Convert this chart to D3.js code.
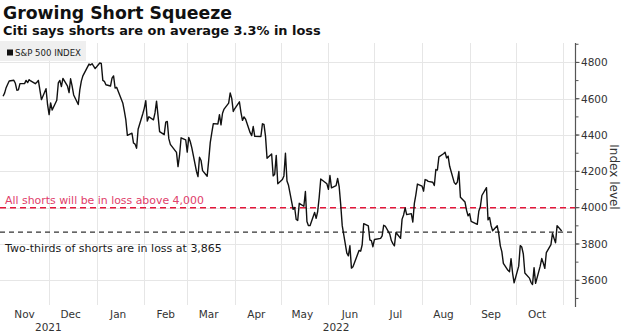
<!DOCTYPE html>
<html><head><meta charset="utf-8">
<script src="https://cdn.jsdelivr.net/npm/d3@7"></script>
<style>body{margin:0;background:#fff;} svg{display:block;}</style>
</head><body>
<svg id="c" width="627" height="335"></svg>
<script>
// ---------- data ----------
const dates = [
"2021-11-01","2021-11-02","2021-11-03","2021-11-04","2021-11-05","2021-11-08","2021-11-09","2021-11-10","2021-11-11","2021-11-12","2021-11-15","2021-11-16","2021-11-17","2021-11-18","2021-11-19","2021-11-22","2021-11-23","2021-11-24","2021-11-26","2021-11-29","2021-11-30",
"2021-12-01","2021-12-02","2021-12-03","2021-12-06","2021-12-07","2021-12-08","2021-12-09","2021-12-10","2021-12-13","2021-12-14","2021-12-15","2021-12-16","2021-12-17","2021-12-20","2021-12-21","2021-12-22","2021-12-23","2021-12-27","2021-12-28","2021-12-29","2021-12-30","2021-12-31",
"2022-01-03","2022-01-04","2022-01-05","2022-01-06","2022-01-07","2022-01-10","2022-01-11","2022-01-12","2022-01-13","2022-01-14","2022-01-18","2022-01-19","2022-01-20","2022-01-21","2022-01-24","2022-01-25","2022-01-26","2022-01-27","2022-01-28","2022-01-31",
"2022-02-01","2022-02-02","2022-02-03","2022-02-04","2022-02-07","2022-02-08","2022-02-09","2022-02-10","2022-02-11","2022-02-14","2022-02-15","2022-02-16","2022-02-17","2022-02-18","2022-02-22","2022-02-23","2022-02-24","2022-02-25","2022-02-28",
"2022-03-01","2022-03-02","2022-03-03","2022-03-04","2022-03-07","2022-03-08","2022-03-09","2022-03-10","2022-03-11","2022-03-14","2022-03-15","2022-03-16","2022-03-17","2022-03-18","2022-03-21","2022-03-22","2022-03-23","2022-03-24","2022-03-25","2022-03-28","2022-03-29","2022-03-30","2022-03-31",
"2022-04-01","2022-04-04","2022-04-05","2022-04-06","2022-04-07","2022-04-08","2022-04-11","2022-04-12","2022-04-13","2022-04-14","2022-04-18","2022-04-19","2022-04-20","2022-04-21","2022-04-22","2022-04-25","2022-04-26","2022-04-27","2022-04-28","2022-04-29",
"2022-05-02","2022-05-03","2022-05-04","2022-05-05","2022-05-06","2022-05-09","2022-05-10","2022-05-11","2022-05-12","2022-05-13","2022-05-16","2022-05-17","2022-05-18","2022-05-19","2022-05-20","2022-05-23","2022-05-24","2022-05-25","2022-05-26","2022-05-27","2022-05-31",
"2022-06-01","2022-06-02","2022-06-03","2022-06-06","2022-06-07","2022-06-08","2022-06-09","2022-06-10","2022-06-13","2022-06-14","2022-06-15","2022-06-16","2022-06-17","2022-06-21","2022-06-22","2022-06-23","2022-06-24","2022-06-27","2022-06-28","2022-06-29","2022-06-30",
"2022-07-01","2022-07-05","2022-07-06","2022-07-07","2022-07-08","2022-07-11","2022-07-12","2022-07-13","2022-07-14","2022-07-15","2022-07-18","2022-07-19","2022-07-20","2022-07-21","2022-07-22","2022-07-25","2022-07-26","2022-07-27","2022-07-28","2022-07-29",
"2022-08-01","2022-08-02","2022-08-03","2022-08-04","2022-08-05","2022-08-08","2022-08-09","2022-08-10","2022-08-11","2022-08-12","2022-08-15","2022-08-16","2022-08-17","2022-08-18","2022-08-19","2022-08-22","2022-08-23","2022-08-24","2022-08-25","2022-08-26","2022-08-29","2022-08-30","2022-08-31",
"2022-09-01","2022-09-02","2022-09-06","2022-09-07","2022-09-08","2022-09-09","2022-09-12","2022-09-13","2022-09-14","2022-09-15","2022-09-16","2022-09-19","2022-09-20","2022-09-21","2022-09-22","2022-09-23","2022-09-26","2022-09-27","2022-09-28","2022-09-29","2022-09-30",
"2022-10-03","2022-10-04","2022-10-05","2022-10-06","2022-10-07","2022-10-10","2022-10-11","2022-10-12","2022-10-13","2022-10-14","2022-10-17","2022-10-18","2022-10-19","2022-10-20","2022-10-21","2022-10-24","2022-10-25","2022-10-26","2022-10-27","2022-10-28","2022-10-31"
];
const spx = [
4614,4631,4661,4680,4698,4702,4685,4647,4649,4683,4683,4701,4689,4705,4698,4683,4691,4701,4595,4655,4567,
4513,4577,4538,4592,4687,4701,4667,4712,4669,4634,4710,4669,4621,4568,4649,4697,4726,4791,4786,4793,4779,4766,
4797,4794,4701,4696,4677,4670,4713,4726,4659,4663,4577,4533,4483,4398,4410,4356,4350,4327,4432,4516,
4547,4589,4477,4501,4484,4522,4587,4504,4419,4402,4471,4475,4380,4349,4305,4226,4289,4385,4374,
4306,4387,4363,4329,4201,4171,4278,4260,4204,4173,4262,4358,4412,4463,4461,4512,4456,4520,4543,4576,4632,4602,4530,
4546,4583,4525,4481,4500,4488,4413,4397,4447,4393,4392,4462,4459,4394,4272,4296,4175,4184,4288,4132,
4155,4175,4300,4147,4123,3991,4001,3935,3930,4024,4008,4089,3924,3901,3901,3974,3941,3979,4058,4158,4132,
4101,4177,4109,4121,4161,4116,4018,3901,3750,3735,3790,3667,3675,3765,3760,3796,3912,3900,3822,3819,3785,
3825,3831,3845,3903,3899,3854,3819,3802,3790,3863,3831,3937,3960,3999,3962,3967,3921,4024,4072,4130,
4119,4091,4155,4152,4145,4140,4122,4210,4207,4280,4297,4305,4274,4284,4228,4138,4129,4141,4199,4058,4031,3986,3955,
3967,3924,3908,3980,4006,4067,4110,3933,3946,3901,3873,3900,3856,3790,3758,3693,3655,3647,3719,3640,3586,
3678,3791,3783,3745,3640,3612,3589,3577,3670,3583,3678,3720,3695,3666,3753,3797,3859,3831,3807,3901,3872
];
const monthLabels = ["Nov","Dec","Jan","Feb","Mar","Apr","May","Jun","Jul","Aug","Sep","Oct"];
const yearLabels = ["2021","2022"];
const yTicks = [3600,3800,4000,4200,4400,4600,4800];
const levels = [4000, 3865];
const levelNotes = ["All shorts will be in loss above 4,000","Two-thirds of shorts are in loss at 3,865"];
const seriesName = "S&P 500 INDEX";
const titleText = "Growing Short Squeeze";
const subtitleText = "Citi says shorts are on average 3.3% in loss";
const yAxisTitle = "Index level";

// ---------- layout ----------
const svg = d3.select("#c");
const parse = d3.timeParse("%Y-%m-%d");
const data = dates.map((d,i)=>({date:parse(d), v:spx[i]}));
const axisX = 575.5;
const x = d3.scaleTime().domain([new Date(2021,9,30), new Date(2022,10,9)]).range([0, axisX]);
const y = d3.scaleLinear().domain([3453, 4907]).range([307, 43]);
const FONT = "DejaVu Sans, Verdana, sans-serif";

function fit(sel, w){
  const l = sel.node().getComputedTextLength();
  const fs = parseFloat(sel.attr("font-size"));
  sel.attr("font-size", (fs*w/l).toFixed(2));
  return sel;
}

// gridlines
const monthStarts = d3.timeMonth.range(new Date(2021,11,1), new Date(2022,10,2));
svg.append("g").selectAll("line").data(monthStarts).join("line")
  .attr("x1", d=>Math.round(x(d))+0.5).attr("x2", d=>Math.round(x(d))+0.5)
  .attr("y1", 43).attr("y2", 305)
  .attr("stroke", "#e6e6e6").attr("stroke-width", 1);
svg.append("g").selectAll("line").data(yTicks).join("line")
  .attr("x1", 0).attr("x2", axisX)
  .attr("y1", d=>Math.round(y(d))+0.5).attr("y2", d=>Math.round(y(d))+0.5)
  .attr("stroke", "#e6e6e6").attr("stroke-width", 1);

// legend
svg.append("rect").attr("x",0).attr("y",41).attr("width",86).attr("height",20).attr("fill","#efefef");
svg.append("rect").attr("x",7).attr("y",49.5).attr("width",6).attr("height",6).attr("fill","#111");
fit(svg.append("text").attr("x",15).attr("y",55.5).attr("font-family",FONT).attr("font-size",9)
  .attr("fill","#222").text(seriesName), 66);

// reference levels
svg.append("line").attr("x1",0).attr("x2",axisX).attr("y1",y(levels[0])).attr("y2",y(levels[0]))
  .attr("stroke","#e3173a").attr("stroke-width",1.6).attr("stroke-dasharray","6,4");
svg.append("line").attr("x1",0).attr("x2",axisX).attr("y1",y(levels[1])).attr("y2",y(levels[1]))
  .attr("stroke","#333").attr("stroke-width",1.2).attr("stroke-dasharray","5,4");
fit(svg.append("text").attr("x",5).attr("y",y(levels[0])-4).attr("font-family",FONT).attr("font-size",11)
  .attr("fill","#e0406a").text(levelNotes[0]), 199);
fit(svg.append("text").attr("x",5).attr("y",y(levels[1])+20).attr("font-family",FONT).attr("font-size",11)
  .attr("fill","#1a1a1a").text(levelNotes[1]), 217);

// line
svg.append("path").datum(data)
  .attr("d", d3.line().x(d=>x(d.date)).y(d=>y(d.v)))
  .attr("fill","none").attr("stroke","#111").attr("stroke-width",1.4).attr("stroke-linejoin","round");

// right axis
const ax = svg.append("g").attr("transform",`translate(${axisX},0)`);
ax.append("line").attr("x1",0).attr("x2",0).attr("y1",43).attr("y2",307).attr("stroke","#555").attr("stroke-width",1.2);
const minor = d3.range(3500, 4901, 100);
ax.selectAll("line.minor").data(minor).join("line").attr("class","minor")
  .attr("x1",0).attr("x2",3).attr("y1",d=>y(d)).attr("y2",d=>y(d)).attr("stroke","#555");
ax.selectAll("line.major").data(yTicks).join("line").attr("class","major")
  .attr("x1",0).attr("x2",4).attr("y1",d=>y(d)).attr("y2",d=>y(d)).attr("stroke","#555");
ax.selectAll("text").data(yTicks).join("text")
  .attr("x",5.5).attr("y",d=>y(d)+3.8).attr("font-family",FONT).attr("font-size",10.5)
  .attr("fill","#333").text(d=>d);
svg.append("text").attr("transform","translate(610,177) rotate(90)").attr("text-anchor","middle")
  .attr("font-family",FONT).attr("font-size",12).attr("fill","#333").text(yAxisTitle);

// bottom labels
const monthMids = d3.timeMonth.range(new Date(2021,10,1), new Date(2022,10,1)).map(d=>new Date(d.getFullYear(), d.getMonth(), 15));
svg.append("g").selectAll("text").data(monthMids).join("text")
  .attr("x",(d)=>x(d)).attr("y",318).attr("text-anchor","middle")
  .attr("font-family",FONT).attr("font-size",10.5).attr("fill","#333")
  .text((d,i)=>monthLabels[i]);
const yearCenters = [(x(new Date(2021,9,30))+x(new Date(2022,0,1)))/2, (x(new Date(2022,0,1))+axisX)/2];
svg.append("g").selectAll("text").data(yearLabels).join("text")
  .attr("x",(d,i)=>yearCenters[i]).attr("y",331).attr("text-anchor","middle")
  .attr("font-family",FONT).attr("font-size",10.5).attr("fill","#333").text(d=>d);

// titles
fit(svg.append("text").attr("x",3).attr("y",18.5).attr("font-family",FONT).attr("font-weight","bold")
  .attr("font-size",16).attr("fill","#111").text(titleText), 229);
fit(svg.append("text").attr("x",3).attr("y",35).attr("font-family",FONT).attr("font-weight","bold")
  .attr("font-size",12).attr("fill","#111").text(subtitleText), 318);
</script>
</body></html>
